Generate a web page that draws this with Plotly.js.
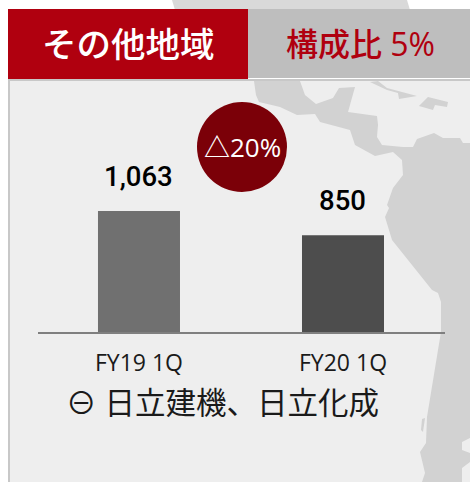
<!DOCTYPE html>
<html><head><meta charset="utf-8">
<script src="https://cdn.plot.ly/plotly-3.0.1.min.js"></script>
<style>html,body{margin:0;padding:0;background:#fff;overflow:hidden}#c{width:470px;height:482px}</style>
</head><body><div id="c"></div>
<script>
const categories = ['FY19 1Q', 'FY20 1Q'];
const values = [1063, 850];
const valueLabels = ['1,063', '850'];
const barColors = ['#707070', '#4d4d4d'];
const regionTitle = 'その他地域';
const shareTitle = '構成比 5%';
const changeLabel = '△20%';
const noteText = '⊖ 日立建機、日立化成';

const W = 470, H = 482, L = 38, R = 445, T = 82, B = 332;
const FONT = '"Open Sans","Noto Sans CJK JP",sans-serif';
const fx = x => (x - L) / (R - L);
const fy = y => (B - y) / (B - T);
const poly = pts => 'M' + pts.map(p => fx(p[0]).toFixed(4) + ',' + fy(p[1]).toFixed(4)).join('L') + 'Z';
const shape = (pts, color) => ({type:'path', xref:'paper', yref:'paper', path:poly(pts), fillcolor:color, line:{width:0}, layer:'below'});
const rect = (x0,y0,x1,y1,color,layer) => ({type:'rect', xref:'paper', yref:'paper', x0:fx(x0), x1:fx(x1), y0:fy(y0), y1:fy(y1), fillcolor:color, line:{width:0}, layer:layer||'below'});
const note = (text,x,y,size,color,weight,anchor) => ({text, xref:'paper', yref:'paper', x:fx(x), y:fy(y), xanchor:anchor||'center', yanchor:'middle', showarrow:false, font:{family:FONT,size,color,weight:weight||400}});

const land = '#d2d2d2';
const shapes = [
  shape([[172,0],[407,0],[410,10],[175,10]], '#d9d9d9'),
  rect(8,79,W,H,'#c8c8c8'),
  rect(10,81,W,H,'#eeeeee'),
  shape([[254,81],[256,95],[259,102],[280,107],[297,115],[315,114],[320,122],[350,130],[355,145],[375,156],[393,152],[402,160],[403,175],[393,188],[387,205],[389,208],[385,217],[392,240],[432,290],[438,293],[441,302],[441,332],[438,350],[427,417],[426,443],[420,452],[425,473],[422,482],[462,482],[462,468],[470,462],[470,453],[462,450],[462,442],[470,438],[470,143],[463,143],[460,138],[443,138],[434,133],[417,139],[413,147],[403,147],[382,145],[377,137],[378,125],[377,116],[348,112],[355,87],[339,88],[333,98],[316,104],[305,95],[300,81]], land),
  shape([[370,82],[378,81],[387,88],[417,96],[399,99],[398,93],[387,90]], land),
  shape([[428,97],[448,102],[447,107],[435,105],[433,110],[419,106]], land),
  shape([[422,419],[425,418],[423,432],[421,430]], land),
  rect(248,9,W,78,'#bebebe'),
  rect(8,9,248,79,'#b0000f'),
  {type:'circle', xref:'paper', yref:'paper', x0:fx(197), x1:fx(287), y0:fy(102), y1:fy(192), fillcolor:'#7b0008', line:{width:0}, layer:'above'}
];

const valueNotes = categories.map((c,i) => ({
  text:valueLabels[i], xref:'x', yref:'y', x:i, y:values[i], yanchor:'middle', xanchor:'center', yshift:35, showarrow:false,
  font:{family:'Roboto,sans-serif', size:27.5, color:'#000000', weight:500}
}));

const annotations = [
  note(regionTitle, 128, 43, 34.5, '#ffffff', 500),
  note(shareTitle, 360.5, 43, 32, '#b0000f', 500),
  note(changeLabel, 242, 147, 26, '#ffffff', 500),
  note(noteText, 222, 402, 30.5, '#1a1a1a', 400),
  ...valueNotes
];

Plotly.newPlot('c', [{
  type:'bar', x:categories, y:values, width:0.402,
  marker:{color:barColors, line:{width:0}},
  hoverinfo:'skip'
}], {
  width:W, height:H, autosize:false, showlegend:false,
  margin:{l:L, r:W-R, t:T, b:H-B, pad:0},
  paper_bgcolor:'#ffffff', plot_bgcolor:'rgba(0,0,0,0)',
  xaxis:{type:'category', range:[-0.495,1.5], showgrid:false, zeroline:false, showline:true, linecolor:'#7f7f7f', linewidth:2, ticks:'', ticklabelstandoff:9, tickfont:{family:FONT,size:23,color:'#1a1a1a'}},
  yaxis:{range:[0,2197], visible:false, showgrid:false, zeroline:false, fixedrange:true},
  shapes, annotations
}, {displayModeBar:false, staticPlot:true});
</script></body></html>
